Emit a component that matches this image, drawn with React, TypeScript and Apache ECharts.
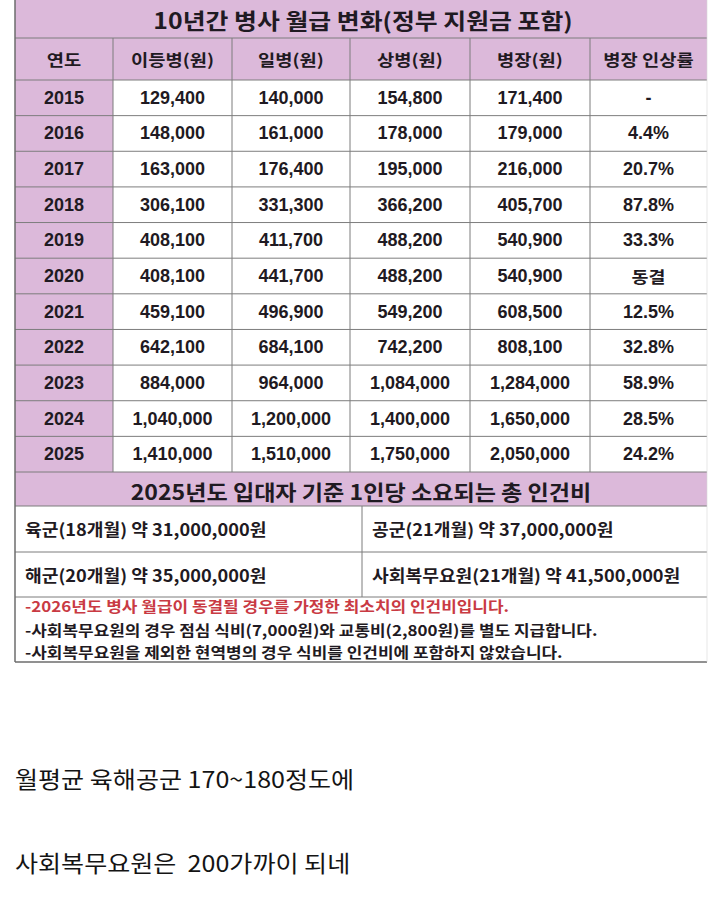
import React, { useEffect, useRef } from "react";
import * as echarts from "echarts";

// ---- data ----
const TITLE = "10년간 병사 월급 변화(정부 지원금 포함)";
const HEADERS = ["연도", "이등병(원)", "일병(원)", "상병(원)", "병장(원)", "병장 인상률"];
const YEARS = [2015, 2016, 2017, 2018, 2019, 2020, 2021, 2022, 2023, 2024, 2025];
const PRIVATE2 = [129400, 148000, 163000, 306100, 408100, 408100, 459100, 642100, 884000, 1040000, 1410000];
const PRIVATE1 = [140000, 161000, 176400, 331300, 411700, 441700, 496900, 684100, 964000, 1200000, 1510000];
const CORPORAL = [154800, 178000, 195000, 366200, 488200, 488200, 549200, 742200, 1084000, 1400000, 1750000];
const SERGEANT = [171400, 179000, 216000, 405700, 540900, 540900, 608500, 808100, 1284000, 1650000, 2050000];
const SERGEANT_RAISE = ["-", "4.4%", "20.7%", "87.8%", "33.3%", "동결", "12.5%", "32.8%", "58.9%", "28.5%", "24.2%"];

const SUBTITLE = "2025년도 입대자 기준 1인당 소요되는 총 인건비";
const BRANCHES = ["육군(18개월)", "공군(21개월)", "해군(20개월)", "사회복무요원(21개월)"];
const TOTAL_COSTS = [31000000, 37000000, 35000000, 41500000];

const NOTES = [
  "-2026년도 병사 월급이 동결될 경우를 가정한 최소치의 인건비입니다.",
  "-사회복무요원의 경우 점심 식비(7,000원)와 교통비(2,800원)를 별도 지급합니다.",
  "-사회복무요원을 제외한 현역병의 경우 식비를 인건비에 포함하지 않았습니다.",
];
const NOTE_HIGHLIGHT = [true, false, false];

const COMMENTS = ["월평균 육해공군 170~180정도에", "사회복무요원은  200가까이 되네"];

const fmt = (v: number) => v.toLocaleString("en-US");

export default function App() {
  const ref = useRef<HTMLDivElement>(null);

  useEffect(() => {
    if (!ref.current) return;
    const chart = echarts.init(ref.current, undefined, { renderer: "svg" });

    const PINK = "#dcb9da";
    const LINE = "#7d7d7d";
    const TEXT = "#1f1a22";
    const KR = "'Noto Sans CJK KR', 'Noto Sans', sans-serif";
    const NUM = "'Liberation Sans', Arial, sans-serif";

    const L = 15, R = 707;
    const titleTop = 0, headTop = 38, bodyTop = 80, bodyBottom = 472;
    const rowH = (bodyBottom - bodyTop) / YEARS.length;
    const colX = [L, 113, 232, 350, 470, 590, R];
    const subBottom = 506;
    const costRowB = [552, 597];
    const midX = 362;
    const tableBottom = 662;

    const els: any[] = [];
    const rect = (x: number, y: number, w: number, h: number, fill: string) =>
      els.push({ type: "rect", shape: { x, y, width: w, height: h }, style: { fill }, silent: true });
    const line = (x1: number, y1: number, x2: number, y2: number, w = 1, c = LINE) =>
      els.push({ type: "line", shape: { x1, y1, x2, y2 }, style: { stroke: c, lineWidth: w }, silent: true });
    const text = (t: string, x: number, y: number, font: string, align = "center", fill = TEXT, sx = 1) =>
      els.push({
        type: "text",
        x,
        y,
        scaleX: sx,
        style: { text: t, font, fill, textAlign: align, textVerticalAlign: "middle" },
        silent: true,
      });

    // backgrounds
    rect(L, titleTop, R - L, headTop - titleTop, PINK);
    rect(L, headTop, R - L, bodyTop - headTop, PINK);
    rect(L, bodyTop, colX[1] - L, bodyBottom - bodyTop, PINK);
    rect(L, bodyBottom, R - L, subBottom - bodyBottom, PINK);

    // title
    text(TITLE, (L + R) / 2 + 2, (titleTop + headTop) / 2 + 1, `bold 22px ${KR}`, "center", TEXT, 1.13);

    // headers
    HEADERS.forEach((h, i) => {
      text(h, (colX[i] + colX[i + 1]) / 2, (headTop + bodyTop) / 2, `bold 16px ${KR}`, "center", TEXT, 1.17);
    });

    // body
    const cols: (string | number)[][] = [YEARS, PRIVATE2, PRIVATE1, CORPORAL, SERGEANT, SERGEANT_RAISE];
    YEARS.forEach((_, r) => {
      const cy = bodyTop + rowH * r + rowH / 2;
      cols.forEach((col, c) => {
        const v = col[r];
        const s = typeof v === "number" && c > 0 ? fmt(v) : String(v);
        const isKr = /[가-힣]/.test(s);
        text(s, (colX[c] + colX[c + 1]) / 2, cy, `bold ${isKr ? 16 : 18}px ${isKr ? KR : NUM}`, "center", TEXT, isKr ? 1.15 : 1);
      });
    });

    // grid lines in table
    line(L, headTop, R, headTop);
    line(L, bodyTop, R, bodyTop);
    for (let r = 1; r < YEARS.length; r++) {
      const y = bodyTop + rowH * r;
      line(L, y, R, y);
    }
    line(L, bodyBottom, R, bodyBottom);
    for (let c = 1; c < colX.length - 1; c++) line(colX[c], headTop, colX[c], bodyBottom);

    // subtitle
    text(SUBTITLE, (L + R) / 2, (bodyBottom + subBottom) / 2 + 1, `bold 21px ${KR}`, "center", TEXT, 1.1);
    line(L, subBottom, R, subBottom);

    // costs grid
    BRANCHES.forEach((b, i) => {
      const row = Math.floor(i / 2);
      const col = i % 2;
      const top = row === 0 ? subBottom : costRowB[0];
      const bot = costRowB[row];
      const x = col === 0 ? L + 10 : midX + 10;
      text(`${b} 약 ${fmt(TOTAL_COSTS[i])}원`, x, (top + bot) / 2, `bold 17px ${KR}`, "left", TEXT, 1.07);
    });
    line(L, costRowB[0], R, costRowB[0]);
    line(L, costRowB[1], R, costRowB[1]);
    line(midX, subBottom, midX, costRowB[1]);

    // notes
    const noteY = [605, 629, 651];
    NOTES.forEach((n, i) => {
      text(n, L + 10, noteY[i], `bold 15px ${KR}`, "left", NOTE_HIGHLIGHT[i] ? "#c93a43" : TEXT, 1.13);
    });

    // outer frame
    line(L, titleTop, L, tableBottom, 1.5, "#6d6d6d");
    line(L, tableBottom, R, tableBottom, 1.5, "#6d6d6d");
    line(R, titleTop, R, tableBottom, 0.6, "#d6d6d6");

    // comments below
    const commentY = [778, 862];
    COMMENTS.forEach((c, i) => {
      text(c, 15, commentY[i], `23px ${KR}`, "left", "#141414", 1.09);
    });

    chart.setOption({
      animation: false,
      backgroundColor: "#ffffff",
      graphic: { elements: els },
    });

    return () => chart.dispose();
  }, []);

  return (
    <div
      ref={ref}
      style={{ position: "fixed", left: 0, top: 0, width: 728, height: 908, background: "#fff" }}
    />
  );
}
